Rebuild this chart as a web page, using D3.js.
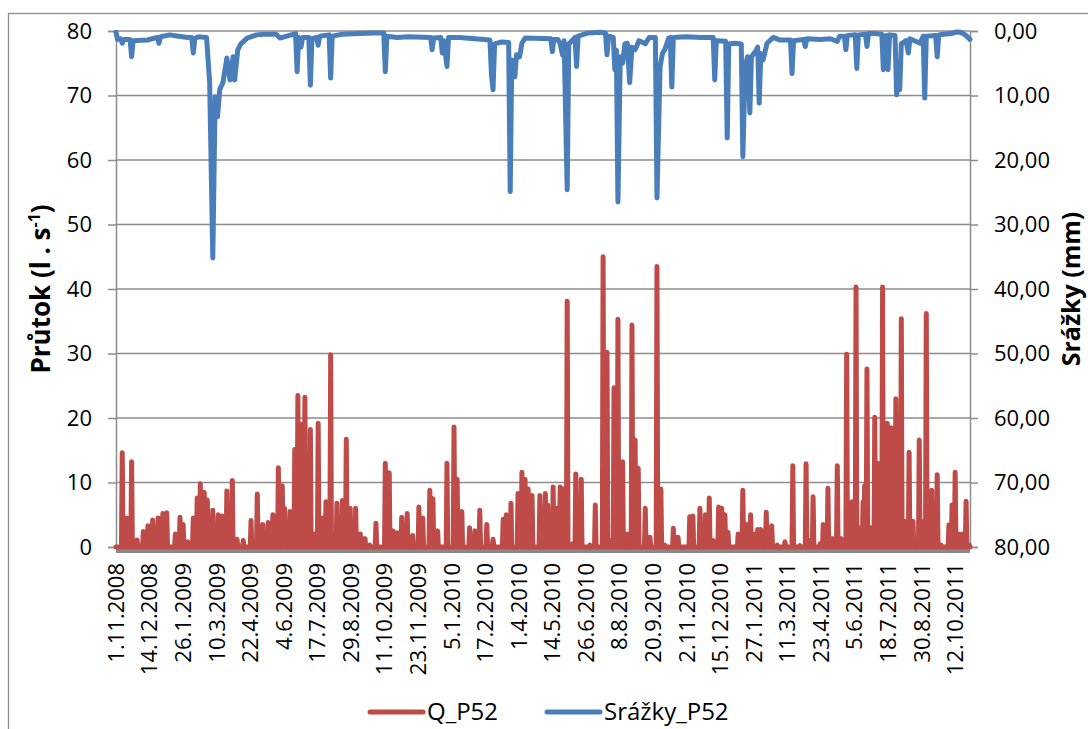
<!DOCTYPE html>
<html><head><meta charset="utf-8">
<script src="https://cdn.jsdelivr.net/npm/d3@7"></script>
<style>
body{margin:0;background:#fff;}
text{font-family:"Open Sans","Noto Sans",sans-serif;fill:#000;}
</style></head>
<body>
<svg id="c" width="1088" height="729"></svg>
<script>
// ---- data (day index from 1.11.2008) ----
const startDate = Date.UTC(2008, 10, 1);
const nDays = 1095;
const tickLabels = ["1.11.2008","14.12.2008","26.1.2009","10.3.2009","22.4.2009","4.6.2009","17.7.2009","29.8.2009","11.10.2009","23.11.2009","5.1.2010","17.2.2010","1.4.2010","14.5.2010","26.6.2010","8.8.2010","20.9.2010","2.11.2010","15.12.2010","27.1.2011","11.3.2011","23.4.2011","5.6.2011","18.7.2011","30.8.2011","12.10.2011"];
const leftTicks = [0,10,20,30,40,50,60,70,80];
const rightTicks = [0,10,20,30,40,50,60,70,80];

// Q_P52 (l/s): days with flow above the baseline (others rest at 0)
const qDay = [8,14,20,27,35,41,47,54,60,65,76,82,86,92,99,104,108,113,117,120,124,131,136,142,149,155,163,173,181,188,195,201,208,213,216,223,229,233,238,242,249,254,259,264,269,275,283,290,295,300,307,313,319,325,333,345,350,355,360,366,373,380,388,393,402,406,412,424,433,437,443,453,460,466,475,483,496,500,506,515,520,524,528,533,543,550,553,560,565,569,573,578,585,589,596,607,614,624,629,634,638,643,649,655,661,665,669,678,684,693,698,703,714,720,735,739,748,755,760,765,772,776,780,784,797,803,808,813,819,822,826,833,835,840,847,857,867,876,884,888,893,902,906,912,918,924,929,936,943,948,952,957,959,962,967,972,976,982,988,993,995,999,1006,1011,1016,1021,1029,1032,1038,1041,1045,1052,1057,1067,1071,1075,1079,1084,1089,1093];
const qVal = [14.6,4.5,13.2,1.1,2.4,3.3,4.2,4.5,5.2,5.3,2,4.6,3.5,0.8,4.5,7.6,9.8,8.5,7.3,3,5.7,5,4.8,8.7,10.3,1.2,1,4.1,8.2,3.5,3.8,5,12.3,9.5,6,5.5,15.1,23.5,19,23.2,18.2,2,19.2,4.5,7,29.8,6.8,7.2,16.7,6,6,2,1.3,0.3,3.7,13,11.5,2.5,2.2,4.6,5.2,1.8,6.2,4.5,8.8,7.5,2.5,13,18.6,10.5,5.5,3,2.5,5.7,3.5,1.2,4.3,5,6.8,8.3,11.6,10.5,9,8,8,8.3,6.5,9.3,6,9.3,9,38.1,0.5,11.3,10.5,0.3,6.5,45,30.2,1,24.7,35.3,13.2,2,34.4,16.6,12.2,6,1.5,43.5,9,0.3,2.9,1.5,4.7,4.8,6,5,7.6,1,6.2,6,5,2.3,2,8.8,3.5,5,2,2.7,2.7,5.4,3,3.3,0.3,0.8,12.6,0.2,12.9,1,7.8,0.5,3.5,9.1,1.3,12.6,1.3,29.9,7,40.3,3,7,9.5,27.6,3,20.1,13,40.3,19.2,18.5,3,23,35.4,4,14.7,4,16.6,4,36.2,4,8.8,11.2,0.3,3.4,6.5,11.6,2,2,7.1,0.3];

// Srážky_P52 (mm), read point by point
const rDay = [0,2,6,8,10,18,20,22,40,53,55,57,69,80,92,97,99,101,105,116,119,120,124,127,130,133,137,142,146,150,152,156,160,168,180,190,205,210,230,232,234,237,239,247,249,251,257,259,261,273,275,277,290,310,330,343,345,347,360,375,403,405,407,416,418,420,424,426,440,460,479,481,483,485,494,503,505,507,508,511,513,517,520,524,557,559,561,566,569,572,574,578,580,588,590,592,605,620,627,629,631,637,639,641,643,646,649,652,655,658,661,665,670,675,678,683,691,693,697,700,703,708,710,712,714,730,750,765,767,769,781,783,785,793,801,803,806,809,812,814,820,822,824,826,829,834,842,851,864,866,868,881,883,885,902,915,924,927,933,935,937,945,947,949,951,960,962,964,972,981,983,985,987,989,991,998,1000,1002,1004,1006,1012,1015,1017,1030,1034,1036,1038,1050,1052,1054,1060,1070,1077,1082,1088,1094];
const rVal = [0.2,1.3,1.2,1.9,1.3,1.3,4.0,1.5,1.4,1.0,1.9,0.9,0.6,0.8,1.0,1.0,3.4,1.2,0.9,1.0,6.3,8,35.2,10.2,13.3,9,8,4.2,7.6,4,7.6,2.9,2.0,1.1,0.6,0.5,0.5,1.1,0.4,6.3,1.0,2.5,1.0,1.0,8.4,1.2,1.0,2.2,0.8,0.6,7.3,0.8,0.5,0.4,0.3,0.3,6.3,0.8,1.0,0.9,1.0,2.9,1.1,1.0,3.4,1.5,5.5,1.0,1.0,1.2,1.4,6.8,9.1,2.0,1.7,1.8,24.9,4.5,5.5,7.1,3.7,4.0,1.9,1.1,1.2,3.2,1.3,1.3,2.0,3.7,1.5,24.6,2.0,1.0,5.5,0.8,0.3,0.2,0.3,3.7,0.8,1.0,6.0,3,26.5,4,5,2,1.9,8,2.5,2.9,1.5,1.8,2.0,1.0,1.0,25.9,5.5,3.5,2.9,1.1,1.0,8.7,1.0,0.9,1.0,1.0,7.6,1.5,1.6,16.6,2.0,1.9,2.0,19.5,5.5,4.0,12.7,4.0,3,2.5,11.2,3.5,4.5,1.9,1.0,1.4,1.4,6.6,1.5,1.3,2.4,1.2,1.3,1.2,1.6,0.8,0.8,2.9,0.7,0.6,0.6,5.8,0.6,0.5,2.4,0.4,0.4,0.5,6.0,0.8,0.7,6.0,0.6,0.7,9.9,7,9.1,2.0,1.5,3.4,1.2,1.9,0.8,10.4,0.8,0.7,4.0,0.6,0.5,0.4,0.15,0.2,0.6,1.3];

// ---- chart ----
const svg = d3.select("#c");
const pLeft = 116, pRight = 970, pTop = 31, pBottom = 547;
const toDate = d => new Date(startDate + d * 864e5);
const x = d3.scaleUtc().domain([toDate(0), toDate(nDays - 1)]).range([pLeft, pRight]);
const yL = d3.scaleLinear().domain([0, 80]).range([pBottom, pTop]);
const yR = d3.scaleLinear().domain([0, 80]).range([pTop, pBottom]);
const parse = d3.utcParse("%d.%m.%Y");

// outer border
svg.append("rect").attr("x", 8.5).attr("y", 13.5).attr("width", 1100).attr("height", 740)
  .attr("fill", "none").attr("stroke", "#8c8c8c").attr("stroke-width", 1.3);

// gridlines
svg.append("g").selectAll("line").data(leftTicks.filter(d => d > 0)).join("line")
  .attr("x1", pLeft).attr("x2", pRight).attr("y1", d => yL(d)).attr("y2", d => yL(d))
  .attr("stroke", "#8c8c8c").attr("stroke-width", 1.5);

// left axis
const gL = svg.append("g").attr("transform", `translate(${pLeft},0)`)
  .call(d3.axisLeft(yL).tickValues(leftTicks).tickSize(8).tickPadding(16).tickFormat(d3.format("d")));
gL.select(".domain").attr("stroke", "#8c8c8c").attr("stroke-width", 1.5);
gL.selectAll(".tick line").attr("stroke", "#8c8c8c").attr("stroke-width", 1.5);
gL.selectAll(".tick text").attr("font-size", 22).attr("font-family", "Open Sans");

// right axis
const fmtR = d => d3.format(".2f")(d).replace(".", ",");
const gR = svg.append("g").attr("transform", `translate(${pRight},0)`)
  .call(d3.axisRight(yR).tickValues(rightTicks).tickSize(8).tickPadding(16).tickFormat(fmtR));
gR.select(".domain").attr("stroke", "#8c8c8c").attr("stroke-width", 1.5);
gR.selectAll(".tick line").attr("stroke", "#8c8c8c").attr("stroke-width", 1.5);
gR.selectAll(".tick text").attr("font-size", 22).attr("font-family", "Open Sans");

// x axis (thick grey line) + rotated date labels
svg.append("line").attr("x1", pLeft).attr("x2", pRight).attr("y1", pBottom + 3).attr("y2", pBottom + 3)
  .attr("stroke", "#898989").attr("stroke-width", 6);
svg.append("g").selectAll("text").data(tickLabels).join("text")
  .attr("transform", d => `translate(${x(parse(d))},${pBottom + 16}) rotate(-90)`)
  .attr("text-anchor", "end").attr("dy", "0.36em").attr("font-size", 22).text(d => d);

// series
const qMap = new Map(qDay.map((d, i) => [d, qVal[i]]));
const qSeries = d3.range(nDays).map(d => ({ d, v: qMap.has(d) ? qMap.get(d) : 0 }));
const rSeries = rDay.map((d, i) => ({ d, v: rVal[i] }));

svg.append("path").datum(qSeries)
  .attr("d", d3.line().x(p => x(toDate(p.d))).y(p => yL(p.v)))
  .attr("fill", "none").attr("stroke", "#BE4B48").attr("stroke-width", 5)
  .attr("stroke-linejoin", "round").attr("stroke-linecap", "round");

svg.append("path").datum(rSeries)
  .attr("d", d3.line().x(p => x(toDate(p.d))).y(p => yR(p.v)))
  .attr("fill", "none").attr("stroke", "#4A7EBB").attr("stroke-width", 5)
  .attr("stroke-linejoin", "round").attr("stroke-linecap", "round");

// axis titles
const tL = svg.append("text").attr("transform", `translate(50,289) rotate(-90)`)
  .attr("text-anchor", "middle").attr("font-size", 26).attr("font-weight", "bold");
tL.append("tspan").text("Průtok (l . s");
tL.append("tspan").attr("dy", -10).attr("font-size", 16).text("-1");
tL.append("tspan").attr("dy", 10).text(")");

svg.append("text").attr("transform", `translate(1080,289) rotate(-90)`)
  .attr("text-anchor", "middle").attr("font-size", 25).attr("font-weight", "bold").text("Srážky (mm)");

// legend
const legend = [{ name: "Q_P52", color: "#BE4B48", x: 370 }, { name: "Srážky_P52", color: "#4A7EBB", x: 547 }];
const lg = svg.append("g").selectAll("g").data(legend).join("g").attr("transform", d => `translate(${d.x},712)`);
lg.append("line").attr("x1", 0).attr("x2", 53).attr("stroke", d => d.color).attr("stroke-width", 5).attr("stroke-linecap", "round");
lg.append("text").attr("x", 57).attr("dy", "0.35em").attr("font-size", 24).text(d => d.name);
</script>
</body></html>
